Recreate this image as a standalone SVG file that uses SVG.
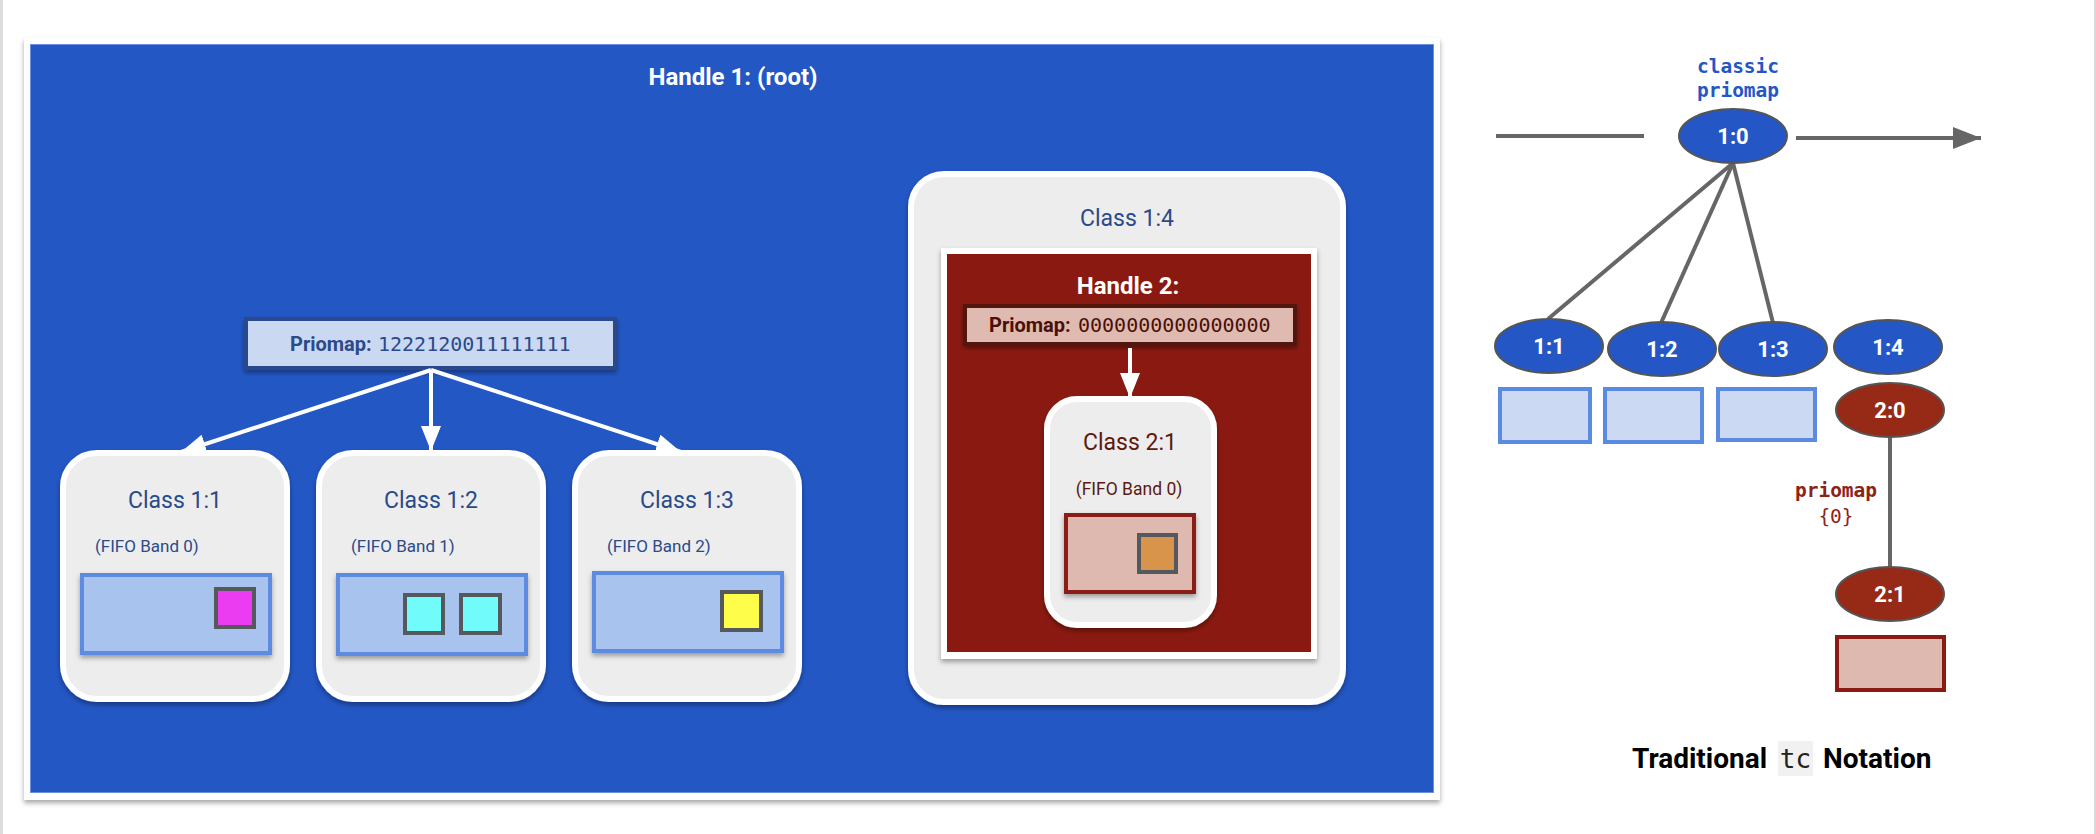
<svg xmlns="http://www.w3.org/2000/svg" width="2096" height="834" viewBox="0 0 2096 834">
  <style>
    .sans { font-family: Roboto, "Liberation Sans", Arial, sans-serif; }
    .mono { font-family: "DejaVu Sans Mono", "Liberation Mono", monospace; }
    .title-w { font-family: Roboto, "Liberation Sans", sans-serif; font-weight: bold; fill: #ffffff; text-anchor: middle; }
    .cls-box { fill: #ededed; stroke: #ffffff; stroke-width: 6; }
    .cls-blue { font-family: Roboto, "Liberation Sans", sans-serif; fill: #2b4a89; }
    .cls-red { font-family: Roboto, "Liberation Sans", sans-serif; fill: #5c1a10; }
    .queue-blue { fill: #a9c3ef; stroke: #5b8be0; stroke-width: 4; }
    .queue-red { fill: #deb9b0; stroke: #8b1a12; stroke-width: 4; }
    .pkt { stroke: #55585c; stroke-width: 4; }
    .flow { stroke: #ffffff; stroke-width: 4; fill: none; }
    .tree { stroke: #666666; stroke-width: 4; fill: none; }
    .ell-blue { fill: #2457c5; stroke: #555555; stroke-width: 2; }
    .ell-red { fill: #962a16; stroke: #555555; stroke-width: 2; }
    .ell-txt { font-family: Roboto, "Liberation Sans", sans-serif; font-weight: bold; font-size: 22px; fill: #ffffff; text-anchor: middle; }
    .tc-queue-blue { fill: #ccd9f3; stroke: #5b8be0; stroke-width: 4; }
  </style>
  <defs>
    <filter id="shadow" x="-10%" y="-10%" width="120%" height="125%">
      <feDropShadow dx="0" dy="3" stdDeviation="2.5" flood-color="#000000" flood-opacity="0.35"/>
    </filter>
    <marker id="arrow-white" viewBox="0 0 25 20" refX="25" refY="10" markerWidth="25" markerHeight="20" markerUnits="userSpaceOnUse" orient="auto">
      <path d="M0,0 L25,10 L0,20 Z" fill="#ffffff"/>
    </marker>
    <marker id="arrow-grey" viewBox="0 0 28 22" refX="28" refY="11" markerWidth="28" markerHeight="22" markerUnits="userSpaceOnUse" orient="auto">
      <path d="M0,0 L28,11 L0,22 Z" fill="#666666"/>
    </marker>
  </defs>

  <!-- page -->
  <rect x="0" y="0" width="2096" height="834" fill="#ffffff"/>
  <line x1="1.5" y1="0" x2="1.5" y2="834" stroke="#dddddd" stroke-width="3"/>
  <line x1="2095" y1="0" x2="2095" y2="834" stroke="#d8d8d8" stroke-width="2"/>

  <!-- root qdisc frame -->
  <g id="handle1">
    <rect x="24" y="38" width="1416" height="762" fill="#ffffff" filter="url(#shadow)"/>
    <rect x="30.5" y="44.5" width="1403" height="748" fill="#2357c4" stroke="#6b8fdc" stroke-width="1"/>
    <text class="title-w" x="733" y="85" font-size="24">Handle 1: (root)</text>
  </g>

  <g id="priomap1">
    <rect x="246" y="319" width="369" height="49" fill="#cad8f2" stroke="#2c4a8c" stroke-width="4" filter="url(#shadow)"/>
    <text x="290" y="351" font-size="20" fill="#2b4a89"><tspan class="sans" font-weight="bold">Priomap:</tspan><tspan class="mono" x="378">1222120011111111</tspan></text>
  </g>

  <g id="class11">
    <rect class="cls-box" x="63" y="453" width="224" height="246" rx="34" filter="url(#shadow)"/>
    <text class="cls-blue" x="175" y="508" font-size="23" text-anchor="middle">Class 1:1</text>
    <text class="cls-blue" x="95" y="552" font-size="17">(FIFO Band 0)</text>
    <rect class="queue-blue" x="82" y="575" width="188" height="78" filter="url(#shadow)"/>
    <rect class="pkt" x="216" y="589" width="38" height="38" fill="#ec3cf2"/>
  </g>

  <g id="class12">
    <rect class="cls-box" x="319" y="453" width="224" height="246" rx="34" filter="url(#shadow)"/>
    <text class="cls-blue" x="431" y="508" font-size="23" text-anchor="middle">Class 1:2</text>
    <text class="cls-blue" x="351" y="552" font-size="17">(FIFO Band 1)</text>
    <rect class="queue-blue" x="338" y="575" width="188" height="79" filter="url(#shadow)"/>
    <rect class="pkt" x="405" y="595" width="38" height="38" fill="#72fbfb"/>
    <rect class="pkt" x="461" y="595" width="39" height="38" fill="#72fbfb"/>
  </g>

  <g id="class13">
    <rect class="cls-box" x="575" y="453" width="224" height="246" rx="34" filter="url(#shadow)"/>
    <text class="cls-blue" x="687" y="508" font-size="23" text-anchor="middle">Class 1:3</text>
    <text class="cls-blue" x="607" y="552" font-size="17">(FIFO Band 2)</text>
    <rect class="queue-blue" x="594" y="573" width="188" height="78" filter="url(#shadow)"/>
    <rect class="pkt" x="722" y="592" width="39" height="38" fill="#fdfd4a"/>
  </g>

  <g id="class14">
    <rect class="cls-box" x="911" y="174" width="432" height="528" rx="33" filter="url(#shadow)"/>
    <text class="cls-blue" x="1127" y="226" font-size="23" text-anchor="middle">Class 1:4</text>
  </g>

  <g id="handle2">
    <rect x="941" y="248" width="376" height="411" fill="#ffffff" filter="url(#shadow)"/>
    <rect x="947" y="254" width="364" height="398" fill="#8a1a11"/>
    <text class="title-w" x="1128" y="294" font-size="24">Handle 2:</text>
  </g>

  <g id="priomap2">
    <rect x="965" y="306" width="330" height="38" fill="#dfbab1" stroke="#53120a" stroke-width="4" filter="url(#shadow)"/>
    <text x="989" y="332" font-size="20" fill="#4a0f08"><tspan class="sans" font-weight="bold">Priomap:</tspan><tspan class="mono" x="1078">0000000000000000</tspan></text>
  </g>

  <g id="class21">
    <rect class="cls-box" x="1047" y="399" width="167" height="226" rx="30" filter="url(#shadow)"/>
    <text class="cls-red" x="1130" y="450" font-size="23" text-anchor="middle">Class 2:1</text>
    <text class="cls-red" x="1129" y="495" font-size="17.5" text-anchor="middle">(FIFO Band 0)</text>
    <rect class="queue-red" x="1066" y="515" width="128" height="77" filter="url(#shadow)"/>
    <rect class="pkt" x="1139" y="535" width="37" height="37" fill="#d9944c"/>
  </g>

  <!-- connectors -->
  <g id="connectors">
    <line class="flow" x1="431" y1="370" x2="181" y2="452" marker-end="url(#arrow-white)"/>
    <line class="flow" x1="431" y1="370" x2="431" y2="451" marker-end="url(#arrow-white)"/>
    <line class="flow" x1="431" y1="370" x2="681" y2="452" marker-end="url(#arrow-white)"/>
    <line class="flow" x1="1130" y1="348" x2="1130" y2="398" marker-end="url(#arrow-white)"/>
  </g>

  <!-- traditional tc notation tree -->
  <g id="tc-connectors">
    <line class="tree" x1="1496" y1="136" x2="1644" y2="136"/>
    <line class="tree" x1="1796" y1="138" x2="1981" y2="138" marker-end="url(#arrow-grey)"/>
    <line class="tree" x1="1733" y1="163" x2="1548" y2="319"/>
    <line class="tree" x1="1733" y1="163" x2="1661" y2="323"/>
    <line class="tree" x1="1733" y1="163" x2="1773" y2="323"/>
    <line class="tree" x1="1890" y1="437" x2="1890" y2="567"/>
  </g>

  <g id="tc-label-classic">
    <text class="mono" x="1738" y="73" font-size="19.5" font-weight="bold" fill="#2457c5" text-anchor="middle">classic</text>
    <text class="mono" x="1738" y="97" font-size="19.5" font-weight="bold" fill="#2457c5" text-anchor="middle">priomap</text>
  </g>

  <g id="tc-10">
    <ellipse class="ell-blue" cx="1733" cy="136" rx="54" ry="27"/>
    <text class="ell-txt" x="1733" y="144">1:0</text>
  </g>
  <g id="tc-11">
    <ellipse class="ell-blue" cx="1549" cy="346" rx="54" ry="27"/>
    <text class="ell-txt" x="1549" y="354">1:1</text>
  </g>
  <g id="tc-12">
    <ellipse class="ell-blue" cx="1662" cy="349" rx="54" ry="27"/>
    <text class="ell-txt" x="1662" y="357">1:2</text>
  </g>
  <g id="tc-13">
    <ellipse class="ell-blue" cx="1773" cy="349" rx="54" ry="27"/>
    <text class="ell-txt" x="1773" y="357">1:3</text>
  </g>
  <g id="tc-14">
    <ellipse class="ell-blue" cx="1888" cy="347" rx="54" ry="27"/>
    <text class="ell-txt" x="1888" y="355">1:4</text>
  </g>

  <g id="tc-queues">
    <rect class="tc-queue-blue" x="1500" y="389" width="90" height="53"/>
    <rect class="tc-queue-blue" x="1605" y="389" width="97" height="53"/>
    <rect class="tc-queue-blue" x="1718" y="389" width="97" height="51"/>
  </g>

  <g id="tc-20">
    <ellipse class="ell-red" cx="1890" cy="410" rx="54" ry="27"/>
    <text class="ell-txt" x="1890" y="418">2:0</text>
  </g>

  <g id="tc-label-priomap">
    <text class="mono" x="1836" y="497" font-size="19.5" font-weight="bold" fill="#8e2216" text-anchor="middle">priomap</text>
    <text class="mono" x="1836" y="523" font-size="19.5" fill="#8e2216" text-anchor="middle">{0}</text>
  </g>

  <g id="tc-21">
    <ellipse class="ell-red" cx="1890" cy="594" rx="54" ry="27"/>
    <text class="ell-txt" x="1890" y="602">2:1</text>
    <rect class="queue-red" x="1837" y="637" width="107" height="53"/>
  </g>

  <g id="caption">
    <rect x="1778" y="741" width="35" height="35" fill="#f1f1f1"/>
    <text class="sans" x="1632" y="768" font-size="28" font-weight="bold" fill="#000000">Traditional</text>
    <text class="mono" x="1795.5" y="768" font-size="26" fill="#222222" text-anchor="middle">tc</text>
    <text class="sans" x="1823" y="768" font-size="28" font-weight="bold" fill="#000000">Notation</text>
  </g>
</svg>
